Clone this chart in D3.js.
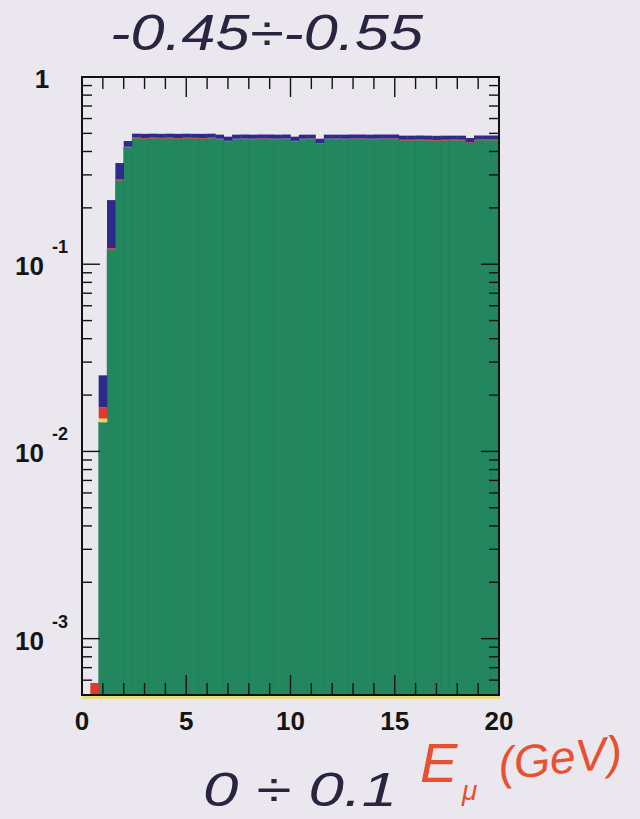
<!DOCTYPE html>
<html>
<head>
<meta charset="utf-8">
<script src="https://cdn.jsdelivr.net/npm/d3@7"></script>
<style>
  html, body { margin: 0; padding: 0; background: #eae8ee; }
  svg { display: block; }
</style>
</head>
<body>
<svg id="chart" width="640" height="819"></svg>
<script>
// Muon energy spectrum, stacked by component, 0.4 GeV bins (lower edges)
const binLow = [
  0.0, 0.4, 0.8, 1.2, 1.6, 2.0, 2.4, 2.8, 3.2, 3.6,
  4.0, 4.4, 4.8, 5.2, 5.6, 6.0, 6.4, 6.8, 7.2, 7.6,
  8.0, 8.4, 8.8, 9.2, 9.6, 10.0, 10.4, 10.8, 11.2, 11.6,
  12.0, 12.4, 12.8, 13.2, 13.6, 14.0, 14.4, 14.8, 15.2, 15.6,
  16.0, 16.4, 16.8, 17.2, 17.6, 18.0, 18.4, 18.8, 19.2, 19.6
];
const binWidth = 0.4;

const greenVals = [
  0, 0, 0.0143, 0.12, 0.28, 0.42, 0.470, 0.468, 0.470, 0.469,
  0.470, 0.468, 0.470, 0.469, 0.468, 0.470, 0.464, 0.452, 0.464, 0.465,
  0.464, 0.466, 0.465, 0.464, 0.465, 0.452, 0.464, 0.465, 0.440, 0.464,
  0.465, 0.464, 0.466, 0.465, 0.464, 0.465, 0.466, 0.465, 0.458, 0.458,
  0.459, 0.458, 0.457, 0.458, 0.459, 0.458, 0.444, 0.459, 0.460, 0.459
];
const yellowVals = [
  0, 0, 0.0007, 0, 0, 0, 0, 0, 0, 0,
  0, 0, 0, 0, 0, 0, 0, 0, 0, 0,
  0, 0, 0, 0, 0, 0, 0, 0, 0, 0,
  0, 0, 0, 0, 0, 0, 0, 0, 0, 0,
  0, 0, 0, 0, 0, 0, 0, 0, 0, 0
];
const redVals = [
  0, 0.00058, 0.0022, 0.002, 0.003, 0.004, 0.004, 0.004, 0.004, 0.004,
  0.004, 0.004, 0.004, 0.004, 0.004, 0.004, 0.004, 0.004, 0.004, 0.004,
  0.004, 0.004, 0.004, 0.004, 0.004, 0.004, 0.004, 0.004, 0.004, 0.004,
  0.004, 0.004, 0.004, 0.004, 0.004, 0.004, 0.004, 0.004, 0.004, 0.004,
  0.004, 0.004, 0.004, 0.004, 0.004, 0.004, 0.004, 0.004, 0.004, 0.004
];
const blueVals = [
  0, 0, 0.0083, 0.098, 0.064, 0.031, 0.024, 0.025, 0.024, 0.024,
  0.024, 0.025, 0.024, 0.024, 0.025, 0.024, 0.024, 0.024, 0.024, 0.024,
  0.024, 0.023, 0.024, 0.024, 0.024, 0.024, 0.024, 0.023, 0.024, 0.024,
  0.023, 0.024, 0.023, 0.024, 0.024, 0.024, 0.023, 0.024, 0.024, 0.024,
  0.024, 0.024, 0.024, 0.024, 0.023, 0.024, 0.024, 0.024, 0.023, 0.024
];

const xTickLabels = [0, 5, 10, 15, 20];
const yDecades = [1, 1e-1, 1e-2, 1e-3];

const layerKeys = ["green", "yellow", "red", "blue"];
const layerColors = { green: "#22875f", yellow: "#e6dc4a", red: "#e03a30", blue: "#2c2b8c" };

const svg = d3.select("#chart");
const frame = { left: 82, right: 499, top: 77, bottom: 695 };

const x = d3.scaleLinear().domain([0, 20]).range([frame.left, frame.right]);
const yMin = 5e-4;
const y = d3.scaleLog().domain([yMin, 1]).range([frame.bottom, frame.top]);

const rows = binLow.map((lo, i) => ({
  lo: lo,
  green: greenVals[i],
  yellow: yellowVals[i],
  red: redVals[i],
  blue: blueVals[i]
}));
const stacked = d3.stack().keys(layerKeys)(rows);

// Stacked histogram bars
const barsG = svg.append("g");
stacked.forEach(layer => {
  barsG.append("g")
    .selectAll("rect")
    .data(layer.filter(d => d[1] - d[0] > 0))
    .join("rect")
    .attr("x", d => x(d.data.lo))
    .attr("width", d => x(d.data.lo + binWidth) - x(d.data.lo) + 0.3)
    .attr("y", d => y(d[1]))
    .attr("height", d => y(Math.max(d[0], yMin)) - y(d[1]))
    .attr("fill", layerColors[layer.key])
    .attr("stroke", layer.key === "green" ? "#1f7d57" : "none")
    .attr("stroke-width", 0.5);
});

// Yellow underline along the baseline
svg.append("line")
  .attr("x1", frame.left).attr("x2", frame.right + 1)
  .attr("y1", frame.bottom + 2.5).attr("y2", frame.bottom + 2.5)
  .attr("stroke", "#e8df58").attr("stroke-width", 2.5);

// Ticks on all four sides, pointing inward
const ticksG = svg.append("g").attr("stroke", "#111").attr("stroke-width", 1.4);
d3.range(0, 21, 1).forEach(v => {
  const len = v % 5 === 0 ? 20 : 12;
  ticksG.append("line").attr("x1", x(v)).attr("x2", x(v))
    .attr("y1", frame.bottom).attr("y2", frame.bottom - len);
  ticksG.append("line").attr("x1", x(v)).attr("x2", x(v))
    .attr("y1", frame.top).attr("y2", frame.top + len);
});
y.ticks().forEach(v => {
  const major = Math.abs(Math.log10(v) - Math.round(Math.log10(v))) < 1e-9;
  const len = major ? 18 : 10;
  ticksG.append("line").attr("x1", frame.left).attr("x2", frame.left + len)
    .attr("y1", y(v)).attr("y2", y(v));
  ticksG.append("line").attr("x1", frame.right).attr("x2", frame.right - len)
    .attr("y1", y(v)).attr("y2", y(v));
});

// Frame
svg.append("rect")
  .attr("x", frame.left).attr("y", frame.top)
  .attr("width", frame.right - frame.left).attr("height", frame.bottom - frame.top)
  .attr("fill", "none").attr("stroke", "#111").attr("stroke-width", 2);

// Axis labels
const labelFont = "'Liberation Sans', Arial, sans-serif";
svg.append("g").selectAll("text")
  .data(xTickLabels)
  .join("text")
  .attr("x", d => x(d))
  .attr("y", 730)
  .attr("text-anchor", "middle")
  .attr("font-family", labelFont).attr("font-weight", "bold").attr("font-size", 26)
  .attr("fill", "#151515")
  .text(d => d);

const yLab = svg.append("g").attr("font-family", labelFont).attr("font-weight", "bold").attr("fill", "#151515");
yDecades.forEach(v => {
  const e = Math.round(Math.log10(v));
  if (e === 0) {
    yLab.append("text").attr("x", 42).attr("y", y(v) + 11)
      .attr("text-anchor", "middle").attr("font-size", 26).text("1");
  } else {
    yLab.append("text").attr("x", 15).attr("y", y(v) + 11)
      .attr("font-size", 26).text("10");
    yLab.append("text").attr("x", 52).attr("y", y(v) - 11)
      .attr("font-size", 18).text(String(e));
  }
});

// Hand-written annotations
const handFont = "'Liberation Sans', 'DejaVu Sans', sans-serif";
svg.append("text")
  .attr("x", 110).attr("y", 50)
  .attr("font-family", handFont).attr("font-style", "italic").attr("font-size", 50)
  .attr("fill", "#2b2440")
  .attr("textLength", 313).attr("lengthAdjust", "spacingAndGlyphs")
  .text("-0.45÷-0.55");

svg.append("text")
  .attr("x", 203).attr("y", 806)
  .attr("font-family", handFont).attr("font-style", "italic").attr("font-size", 48)
  .attr("fill", "#2b2440")
  .attr("textLength", 194).attr("lengthAdjust", "spacingAndGlyphs")
  .text("0 ÷ 0.1");

const redInk = "#e8502f";
svg.append("text")
  .attr("x", 420).attr("y", 782)
  .attr("font-family", handFont).attr("font-style", "italic").attr("font-size", 56)
  .attr("fill", redInk)
  .text("E");
svg.append("text")
  .attr("x", 462).attr("y", 800)
  .attr("font-family", handFont).attr("font-style", "italic").attr("font-size", 28)
  .attr("fill", redInk)
  .text("μ");
svg.append("text")
  .attr("transform", "translate(500,780) rotate(-6)")
  .attr("font-family", handFont).attr("font-style", "italic").attr("font-size", 46)
  .attr("fill", redInk)
  .attr("textLength", 124).attr("lengthAdjust", "spacingAndGlyphs")
  .text("(GeV)");
</script>
</body>
</html>
